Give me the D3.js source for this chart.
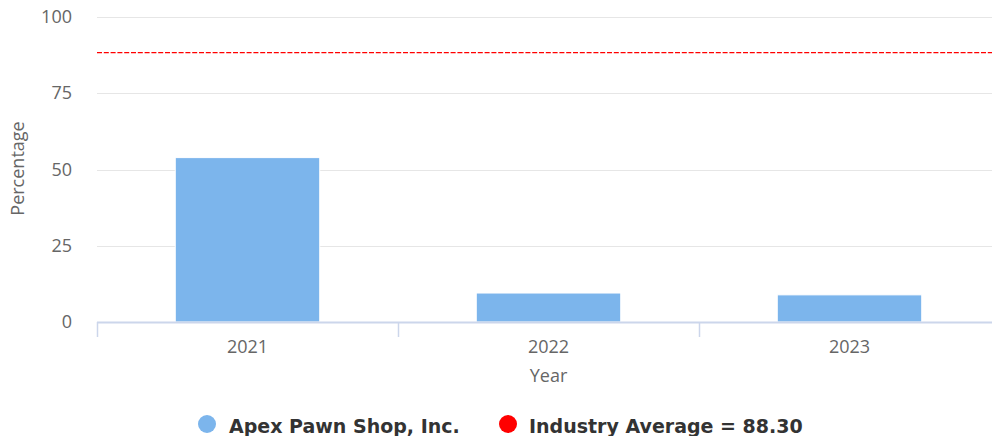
<!DOCTYPE html>
<html>
<head>
<meta charset="UTF-8">
<title>Percentage by Year</title>
<script src="https://cdn.jsdelivr.net/npm/d3@7"></script>
<style>
  body { margin: 0; background: #fff; }
  text { font-family: "Open Sans", "DejaVu Sans", sans-serif; }
</style>
</head>
<body>
<script>
var years = ["2021", "2022", "2023"];
var values = [53.9, 9.5, 8.9];
var yTicks = [0, 25, 50, 75, 100];
var industryAvg = 88.30;
var seriesName = "Apex Pawn Shop, Inc.";
var avgLabel = "Industry Average = 88.30";

var w = 992, h = 436;
var padL = 97, padR = 1000, padT = 17, padB = 322;

var svg = d3.select("body").append("svg")
    .attr("width", w)
    .attr("height", h);

var x = d3.scaleBand().domain(years).range([padL, padR]).padding(0);
var y = d3.scaleLinear().domain([0, 100]).range([padB, padT]);

// gridlines
svg.append("g").selectAll("line")
    .data(yTicks.filter(function(d) { return d > 0; }))
    .enter().append("line")
    .attr("x1", padL).attr("x2", w)
    .attr("y1", function(d) { return Math.round(y(d)) + 0.5; })
    .attr("y2", function(d) { return Math.round(y(d)) + 0.5; })
    .attr("stroke", "#e6e6e6")
    .attr("stroke-width", 1);

// y labels
svg.append("g").selectAll("text")
    .data(yTicks)
    .enter().append("text")
    .attr("x", 72)
    .attr("y", function(d) { return y(d) + 6; })
    .attr("text-anchor", "end")
    .attr("fill", "#666")
    .style("font-size", "18px")
    .text(function(d) { return d; });

// bars
var barW = x.bandwidth() * 0.48;
svg.append("g").selectAll("rect")
    .data(values)
    .enter().append("rect")
    .attr("x", function(d, i) { return x(years[i]) + (x.bandwidth() - barW) / 2; })
    .attr("y", function(d) { return y(d); })
    .attr("width", barW)
    .attr("height", function(d) { return y(0) - y(d); })
    .attr("fill", "#7cb5ec")
    .attr("stroke", "#ffffff")
    .attr("stroke-width", 1);

// x axis
svg.append("line")
    .attr("x1", padL).attr("x2", w)
    .attr("y1", padB + 0.5).attr("y2", padB + 0.5)
    .attr("stroke", "#ccd6eb").attr("stroke-width", 2);

svg.append("g").selectAll("line")
    .data(years)
    .enter().append("line")
    .attr("x1", function(d) { return Math.round(x(d)) + 0.5; })
    .attr("x2", function(d) { return Math.round(x(d)) + 0.5; })
    .attr("y1", padB).attr("y2", padB + 15)
    .attr("stroke", "#ccd6eb").attr("stroke-width", 1.5);

svg.append("g").selectAll("text")
    .data(years)
    .enter().append("text")
    .attr("x", function(d) { return x(d) + x.bandwidth() / 2; })
    .attr("y", 353)
    .attr("text-anchor", "middle")
    .attr("fill", "#666")
    .style("font-size", "18px")
    .text(function(d) { return d; });

// axis titles
svg.append("text")
    .attr("x", x("2022") + x.bandwidth() / 2)
    .attr("y", 382)
    .attr("text-anchor", "middle")
    .attr("fill", "#666")
    .style("font-size", "18px")
    .text("Year");

svg.append("text")
    .attr("transform", "translate(24,168.5) rotate(-90)")
    .attr("text-anchor", "middle")
    .attr("fill", "#666")
    .style("font-size", "18px")
    .text("Percentage");

// industry average line
svg.append("line")
    .attr("x1", padL).attr("x2", w)
    .attr("y1", y(industryAvg)).attr("y2", y(industryAvg))
    .attr("stroke", "#ff0000")
    .attr("stroke-width", 1.2)
    .attr("stroke-dasharray", "5,1.8");

// legend
var legend = svg.append("g");
legend.append("circle").attr("cx", 207).attr("cy", 424).attr("r", 9).attr("fill", "#7cb5ec");
legend.append("text").attr("x", 229).attr("y", 433)
    .attr("fill", "#333").style("font-family", "'DejaVu Sans', sans-serif")
    .style("font-size", "19px").style("font-weight", "bold")
    .text(seriesName);
legend.append("circle").attr("cx", 508).attr("cy", 424).attr("r", 9).attr("fill", "#ff0000");
legend.append("text").attr("x", 529).attr("y", 433)
    .attr("fill", "#333").style("font-family", "'DejaVu Sans', sans-serif")
    .style("font-size", "19px").style("font-weight", "bold")
    .text(avgLabel);
</script>
</body>
</html>
